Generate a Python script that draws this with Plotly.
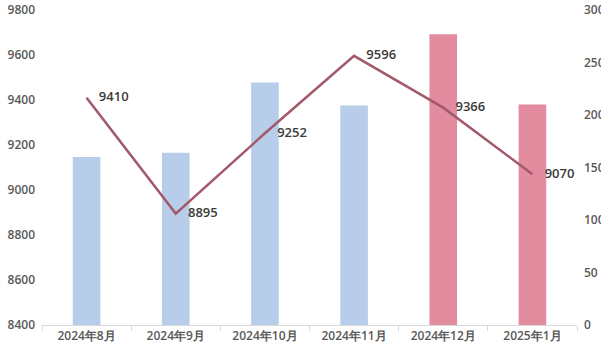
import plotly.graph_objects as go

categories = ["2024年8月", "2024年9月", "2024年10月", "2024年11月", "2024年12月", "2025年1月"]
bar_values = [160, 164, 231, 209, 277, 210]
line_values = [9410, 8895, 9252, 9596, 9366, 9070]
bar_colors = ["#b8cdea", "#b8cdea", "#b8cdea", "#b8cdea", "#e38c9f", "#e38c9f"]

fig = go.Figure()
fig.add_trace(go.Bar(
    x=categories, y=bar_values, yaxis="y",
    marker=dict(color=bar_colors, line=dict(width=0)),
    width=0.31, showlegend=False, hoverinfo="skip",
))
fig.add_trace(go.Scatter(
    x=categories, y=line_values, yaxis="y2",
    mode="lines+markers+text",
    line=dict(color="#a25a6a", width=2.5),
    marker=dict(size=18, color="rgba(0,0,0,0)"),
    text=[str(v) for v in line_values],
    textposition="middle right",
    textfont=dict(family="Open Sans", size=13, color="#3a3a3a", weight=600),
    showlegend=False, cliponaxis=False,
))

tickfont = dict(family="Open Sans", size=12, color="#595959", weight=600)
fig.update_layout(
    width=601, height=355,
    margin=dict(l=42, r=24, t=10, b=30),
    paper_bgcolor="white", plot_bgcolor="white",
    xaxis=dict(
        type="category", showgrid=False, showline=True, linecolor="#d9d9d9", linewidth=1,
        ticks="outside", tickson="boundaries", ticklen=5, tickcolor="#d9d9d9",
        tickfont=tickfont, automargin=False,
    ),
    yaxis=dict(
        range=[0, 300], dtick=50, side="right", showgrid=False,
        showline=False, zeroline=False, tickfont=tickfont, ticklabelstandoff=6,
        automargin=False, tickformat="d",
    ),
    yaxis2=dict(
        range=[8400, 9800], dtick=200, overlaying="y", side="left", showgrid=False,
        showline=False, zeroline=False, tickfont=tickfont, ticklabelstandoff=6,
        automargin=False, tickformat="d",
    ),
)
fig.write_html("out.html")
